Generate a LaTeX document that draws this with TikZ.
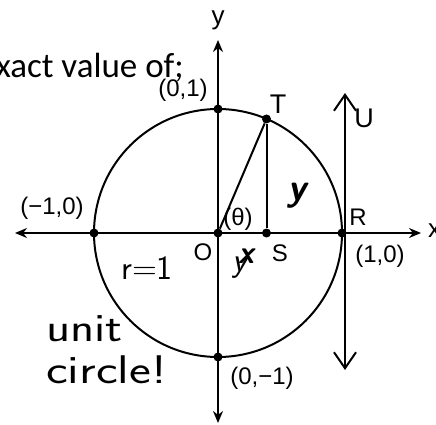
\documentclass[tikz,border=0pt]{standalone}
\usepackage{fontspec}
\setmainfont{Liberation Sans}
\newfontfamily\calib{Carlito}
\usetikzlibrary{arrows.meta}
\begin{document}
\begin{tikzpicture}[x=1pt,y=-1pt,
  axis/.style={line width=1.8pt,-{Stealth[length=12pt,width=10pt]}},
  curve/.style={line width=2pt},
  dot/.style={circle,fill=black,inner sep=0pt,minimum size=9pt},
  lab/.style={inner sep=0pt,font=\fontsize{24}{24}\selectfont},
  biglab/.style={inner sep=0pt,font=\fontsize{27}{27}\selectfont},
  hand/.style={inner sep=0pt,font=\sffamily\fontsize{40}{40}\selectfont},
  tangent/.style={line width=2pt,{Straight Barb[length=16pt,width=22pt]}-{Straight Barb[length=16pt,width=22pt]}}]
\useasboundingbox (0,0) rectangle (436,425);
% points
\coordinate (O) at (218,233);
\coordinate (xl) at (15,233);
\coordinate (xr) at (421,233);
\coordinate (yt) at (218,40);
\coordinate (yb) at (218,423);
\coordinate (Ut) at (345,93);
\coordinate (Ub) at (345,370);
% circle
\draw[curve] (O) circle[radius=124pt];
% axes
\draw[axis] (O) -- (xr);
\draw[axis] (O) -- (xl);
\draw[axis] (O) -- (yt);
\draw[axis] (O) -- (yb);
% tangent line
\draw[tangent] (Ub) -- (Ut);
% points on circle
\node[dot] (Od) at (O) {};
\node[dot] (T) at (266.5,119) {};
\node[dot] (S) at (266.5,233) {};
\node[dot] (R) at (342,233) {};
\node[dot] (P01) at (218,109) {};
\node[dot] (Pm10) at (94,233) {};
\node[dot] (P0m1) at (218,357) {};
% triangle
\draw[curve] (Od) -- (T);
\draw[curve] (T) -- (S);
% labels
\node[anchor=base east,inner sep=0pt,font=\calib\fontsize{35}{35}\selectfont] (title) at (184,78) {xact value of;};
\node[lab] (l01) at (183,90) {(0,1)};
\node[lab] (lm10) at (52,208) {(−1,0)};
\node[lab] (l10) at (380,256) {(1,0)};
\node[lab] (l0m1) at (262,378) {(0,−1)};
\node[lab] (lO) at (203,252) {O};
\node[lab] (lS) at (280,253) {S};
\node[lab] (lR) at (358,217) {R};
\node[biglab] (lT) at (278,104) {T};
\node[biglab] (lU) at (364,118) {U};
\node[lab,font=\fontsize{26}{26}\selectfont] (ly) at (218,20) {y};
\node[lab,font=\fontsize{26}{26}\selectfont,anchor=west] (lx) at (428,231) {x};
\node[lab] (lth) at (238,219) {(θ)};
% handwriting
\node[hand,font=\sffamily\fontsize{34}{34}\selectfont] (hr) at (147,268) {r=1};
\node[hand,font=\sffamily\itshape\bfseries\fontsize{38}{38}\selectfont] (hy) at (297,196) {y};
\node[hand,font=\sffamily\itshape\bfseries\fontsize{32}{32}\selectfont] (hx) at (246,256) {x};
\node[hand,font=\sffamily\itshape\fontsize{34}{34}\selectfont] (hy2) at (240,268) {y};
\node[hand,anchor=west] (hu) at (46,329) {\scalebox{1.25}[1]{unit}};
\node[hand,anchor=west] (hc) at (46,370) {\scalebox{1.3}[1]{circle!}};
\end{tikzpicture}
\end{document}
